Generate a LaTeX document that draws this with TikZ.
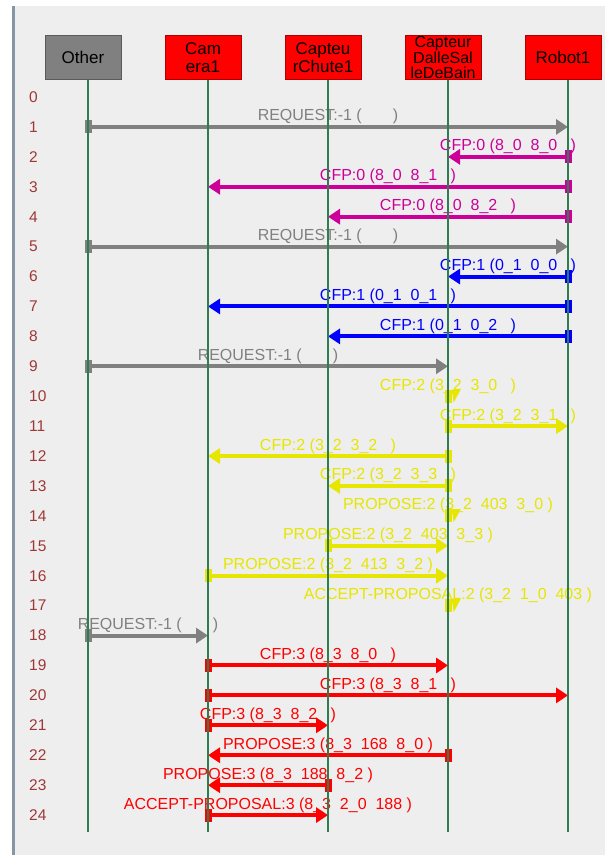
\documentclass[tikz,border=0pt]{standalone}
\usepackage{fontspec}
\setmainfont{Liberation Sans}
\usetikzlibrary{arrows.meta, positioning}

\definecolor{bgc}{RGB}{238,238,238}
\definecolor{barc}{RGB}{135,150,165}
\definecolor{lifec}{RGB}{45,125,80}
\definecolor{numc}{RGB}{160,55,55}
\definecolor{creq}{RGB}{128,128,128}
\definecolor{cmag}{RGB}{204,0,153}
\definecolor{cblu}{RGB}{0,0,255}
\definecolor{cyel}{RGB}{230,230,0}
\definecolor{cred}{RGB}{255,0,0}

\begin{document}
\begin{tikzpicture}[
  x=1pt, y=-1pt,
  font=\fontsize{16}{18}\selectfont,
  actor/.style   = {rectangle, draw=red!70!black, fill=red, line width=0.8pt,
                    minimum width=76pt, minimum height=44pt, inner sep=1pt, align=center,
                    font=\fontsize{17}{18}\selectfont},
  lifeline/.style= {lifec, line width=1.6pt},
  rownum/.style  = {anchor=west, inner sep=0pt, text=numc, font=\fontsize{15.5}{17}\selectfont},
  msg/.style     = {line width=4pt, shorten <=-3.5pt,
                    {Rectangle[length=7pt,width=13pt]}-{Triangle[length=12pt,width=15pt]}},
  lbl/.style     = {anchor=base, yshift=6pt, inner sep=0pt},
  selfsq/.style  = {rectangle, fill=cyel, minimum width=7pt, minimum height=13pt, inner sep=0pt}
]

% frame
\fill[white] (0,0) rectangle (605,855);
\fill[bgc]   (15,6) rectangle (605,855);
\fill[barc]  (12,6) rectangle (15,855);

% lifeline tops
\coordinate (Lother) at (88,80);
\coordinate (Lcam)   at (208,80);
\coordinate (Lchute) at (328,80);
\coordinate (Ldalle) at (448,80);
\coordinate (Lrobot) at (568,80);
\coordinate (bottom) at (0,832);

\node[actor, fill=creq, draw=creq!70!black] (other) [above=0pt of Lother, xshift=-5pt] {Other};
\node[actor] (cam)   [above=0pt of Lcam, xshift=-5pt]   {Cam\\era1};
\node[actor] (chute) [above=0pt of Lchute, xshift=-5pt] {Capteu\\rChute1};
\node[actor, inner sep=0pt, font=\fontsize{16}{15.2}\selectfont] (dalle) [above=0pt of Ldalle, xshift=-5pt] {Capteur\\DalleSal\\leDeBain};
\node[actor] (robot) [above=0pt of Lrobot, xshift=-5pt] {Robot1};

% row numbers
\foreach \i in {0,...,24}
  \node[rownum] (r\i) at (29, {97+29.92*\i}) {\i};

% conversation 0
\draw[msg, creq] (Lother |- r1) -- node[lbl] {REQUEST:-1 (~~~~~~~)} (Lrobot |- r1);
\draw[msg, cmag] (Lrobot |- r2) -- node[lbl] {CFP:0 (8\_0~~8\_0~~~)} (Ldalle |- r2);
\draw[msg, cmag] (Lrobot |- r3) -- node[lbl] {CFP:0 (8\_0~~8\_1~~~)} (Lcam |- r3);
\draw[msg, cmag] (Lrobot |- r4) -- node[lbl] {CFP:0 (8\_0~~8\_2~~~)} (Lchute |- r4);

% conversation 1
\draw[msg, creq] (Lother |- r5) -- node[lbl] {REQUEST:-1 (~~~~~~~)} (Lrobot |- r5);
\draw[msg, cblu] (Lrobot |- r6) -- node[lbl] {CFP:1 (0\_1~~0\_0~~~)} (Ldalle |- r6);
\draw[msg, cblu] (Lrobot |- r7) -- node[lbl] {CFP:1 (0\_1~~0\_1~~~)} (Lcam |- r7);
\draw[msg, cblu] (Lrobot |- r8) -- node[lbl] {CFP:1 (0\_1~~0\_2~~~)} (Lchute |- r8);

% conversation 2
\draw[msg, creq] (Lother |- r9) -- node[lbl] {REQUEST:-1 (~~~~~~~)} (Ldalle |- r9);
\node[selfsq] (s10) at (Ldalle |- r10) {};
\fill[cyel] (s10.north east) -- ++(9,0) -- ++(-7,13) -- cycle;
\node[lbl, cyel] at (Ldalle |- r10) {CFP:2 (3\_2~~3\_0~~~)};
\draw[msg, cyel] (Ldalle |- r11) -- node[lbl] {CFP:2 (3\_2~~3\_1~~~)} (Lrobot |- r11);
\draw[msg, cyel] (Ldalle |- r12) -- node[lbl] {CFP:2 (3\_2~~3\_2~~~)} (Lcam |- r12);
\draw[msg, cyel] (Ldalle |- r13) -- node[lbl] {CFP:2 (3\_2~~3\_3~~~)} (Lchute |- r13);
\node[selfsq] (s14) at (Ldalle |- r14) {};
\fill[cyel] (s14.north east) -- ++(9,0) -- ++(-7,13) -- cycle;
\node[lbl, cyel] at (Ldalle |- r14) {PROPOSE:2 (3\_2~~403~~3\_0~)};
\draw[msg, cyel] (Lchute |- r15) -- node[lbl] {PROPOSE:2 (3\_2~~403~~3\_3~)} (Ldalle |- r15);
\draw[msg, cyel] (Lcam |- r16) -- node[lbl] {PROPOSE:2 (3\_2~~413~~3\_2~)} (Ldalle |- r16);
\node[selfsq] (s17) at (Ldalle |- r17) {};
\fill[cyel] (s17.north east) -- ++(9,0) -- ++(-7,13) -- cycle;
\node[lbl, cyel] at (Ldalle |- r17) {ACCEPT-PROPOSAL:2 (3\_2~~1\_0~~403~)};

% conversation 3
\draw[msg, creq] (Lother |- r18) -- node[lbl] {REQUEST:-1 (~~~~~~~)} (Lcam |- r18);
\draw[msg, cred] (Lcam |- r19) -- node[lbl] {CFP:3 (8\_3~~8\_0~~~)} (Ldalle |- r19);
\draw[msg, cred] (Lcam |- r20) -- node[lbl] {CFP:3 (8\_3~~8\_1~~~)} (Lrobot |- r20);
\draw[msg, cred] (Lcam |- r21) -- node[lbl] {CFP:3 (8\_3~~8\_2~~~)} (Lchute |- r21);
\draw[msg, cred] (Ldalle |- r22) -- node[lbl] {PROPOSE:3 (8\_3~~168~~8\_0~)} (Lcam |- r22);
\draw[msg, cred] (Lchute |- r23) -- node[lbl] {PROPOSE:3 (8\_3~~188~~8\_2~)} (Lcam |- r23);
\draw[msg, cred] (Lcam |- r24) -- node[lbl] {ACCEPT-PROPOSAL:3 (8\_3~~2\_0~~188~)} (Lchute |- r24);

% lifelines on top
\foreach \l in {Lother,Lcam,Lchute,Ldalle,Lrobot}
  \draw[lifeline] (\l) -- (\l |- bottom);

\end{tikzpicture}
\end{document}
